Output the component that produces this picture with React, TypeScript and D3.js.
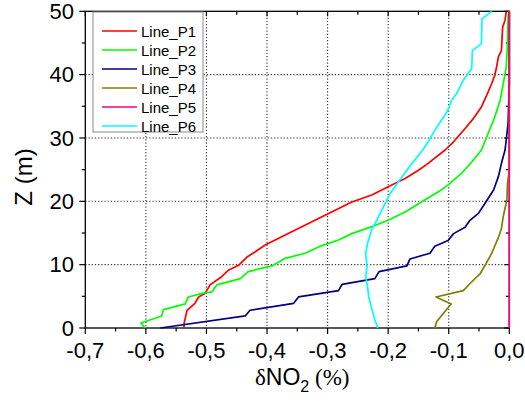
import React from "react";
import * as d3 from "d3";

// ---- Data ----
const seriesNames = ["Line_P1", "Line_P2", "Line_P3", "Line_P4", "Line_P5", "Line_P6"];
const seriesColors = ["#FF0000", "#00FF00", "#000080", "#808000", "#FF0080", "#00FFFF"];

const zP1 = [0, 0.7, 2.8, 3.9, 4.9, 5.5, 6.8, 8.1, 9.1, 9.9, 11.2, 12.0, 13.1, 14.7, 17.3, 19.9, 21.0, 22.3, 23.6, 24.9, 26.0, 28.1, 29.4, 31.5, 33.1, 34.9, 36.8, 38.6, 39.9, 41.2, 42.8, 43.8, 47.5, 48.6, 50];
const dP1 = [-0.537, -0.537, -0.532, -0.519, -0.513, -0.502, -0.494, -0.475, -0.464, -0.447, -0.433, -0.420, -0.403, -0.370, -0.315, -0.260, -0.227, -0.200, -0.172, -0.150, -0.134, -0.106, -0.092, -0.073, -0.059, -0.046, -0.037, -0.029, -0.024, -0.021, -0.018, -0.013, -0.011, -0.007, -0.005];

const zP2 = [0, 0.8, 1.9, 2.9, 3.8, 4.9, 5.5, 5.7, 6.8, 7.8, 8.9, 9.8, 11.0, 11.8, 12.8, 13.9, 14.9, 16.0, 17.0, 18.3, 19.9, 21.5, 22.6, 24.4, 26.2, 28.1, 30.7, 33.3, 36.0, 38.6, 41.2, 44.9, 49.1, 50];
const dP2 = [-0.601, -0.608, -0.574, -0.571, -0.535, -0.530, -0.505, -0.491, -0.483, -0.444, -0.431, -0.392, -0.370, -0.337, -0.315, -0.282, -0.260, -0.227, -0.200, -0.172, -0.145, -0.117, -0.101, -0.079, -0.062, -0.046, -0.035, -0.024, -0.015, -0.010, -0.005, -0.003, -0.002, -0.001];

const zP3 = [0, 1.9, 2.8, 3.9, 4.9, 5.9, 6.9, 7.8, 8.9, 9.8, 10.9, 11.8, 12.9, 13.8, 14.9, 15.9, 17.0, 18.1, 19.7, 21.8, 23.9, 26.0, 28.1, 32.3, 38.6, 50];
const dP3 = [-0.576, -0.436, -0.428, -0.356, -0.348, -0.282, -0.276, -0.222, -0.215, -0.169, -0.164, -0.131, -0.123, -0.101, -0.092, -0.073, -0.065, -0.051, -0.040, -0.026, -0.018, -0.013, -0.007, -0.002, 0, 0];

const zP4 = [0, 1.0, 2.3, 3.8, 4.9, 5.9, 7.3, 8.6, 9.9, 11.8, 14.3, 15.7, 17.6, 20.2, 22.8, 24.9, 50];
const dP4 = [-0.123, -0.120, -0.109, -0.096, -0.121, -0.076, -0.062, -0.048, -0.040, -0.029, -0.018, -0.013, -0.010, -0.004, -0.003, 0, 0];

const zP5 = [0, 50];
const dP5 = [0, 0];

const zP6 = [0, 1.3, 3.4, 4.9, 6.5, 8.1, 9.7, 11.8, 13.4, 15.5, 17.0, 19.1, 21.2, 23.1, 25.2, 28.1, 29.4, 31.2, 32.8, 34.1, 36.0, 37.0, 39.1, 41.0, 43.8, 44.9, 48.8, 50];
const dP6 = [-0.217, -0.222, -0.228, -0.232, -0.234, -0.237, -0.235, -0.237, -0.234, -0.227, -0.219, -0.208, -0.197, -0.183, -0.167, -0.143, -0.134, -0.123, -0.112, -0.103, -0.095, -0.087, -0.076, -0.062, -0.061, -0.046, -0.045, -0.029];

const xMajorTicks = [-0.7, -0.6, -0.5, -0.4, -0.3, -0.2, -0.1, 0.0];
const xTickLabels = ["-0,7", "-0,6", "-0,5", "-0,4", "-0,3", "-0,2", "-0,1", "0,0"];
const xMinorTicks = [-0.65, -0.55, -0.45, -0.35, -0.25, -0.15, -0.05];
const yMajorTicks = [0, 10, 20, 30, 40, 50];
const yTickLabels = ["0", "10", "20", "30", "40", "50"];
const yMinorTicks = [5, 15, 25, 35, 45];

const zSeries = [zP1, zP2, zP3, zP4, zP5, zP6];
const dSeries = [dP1, dP2, dP3, dP4, dP5, dP6];

const SANS = "'Liberation Sans', Arial, sans-serif";
const SERIF = "'Liberation Serif', 'Times New Roman', serif";

export default function App() {
  const left = 85.3, right = 509.3, top = 11.3, bottom = 328;
  const x = d3.scaleLinear().domain([-0.7, 0]).range([left, right]);
  const y = d3.scaleLinear().domain([0, 50]).range([bottom, top]);
  const line = d3
    .line<[number, number]>()
    .x((p) => x(p[0]))
    .y((p) => y(p[1]));

  const gridColor = "#333";
  const legX = 93, legY = 12, legW = 110, legH = 120;
  const rowY0 = 31, rowStep = 19;

  return (
    <svg
      width={525}
      height={410}
      style={{ position: "absolute", left: 0, top: 0, background: "#fff" }}
    >
      <rect x={0} y={0} width={525} height={410} fill="#fff" />
      {/* grid */}
      {xMajorTicks.slice(1, -1).map((t) => (
        <line key={"gx" + t} x1={x(t)} x2={x(t)} y1={top} y2={bottom} stroke={gridColor} strokeWidth={1.1} strokeDasharray="1.2,2" />
      ))}
      {yMajorTicks.slice(1, -1).map((t) => (
        <line key={"gy" + t} x1={left} x2={right} y1={y(t)} y2={y(t)} stroke={gridColor} strokeWidth={1.1} strokeDasharray="1.2,2" />
      ))}

      {/* frame */}
      <rect x={left} y={top} width={right - left} height={bottom - top} fill="none" stroke="#000" strokeWidth={1.3} />

      {/* bottom ticks (outward) + top ticks (inward) */}
      {xMajorTicks.map((t) => (
        <g key={"xt" + t}>
          <line x1={x(t)} x2={x(t)} y1={bottom} y2={bottom + 6} stroke="#000" strokeWidth={1.2} />
          <line x1={x(t)} x2={x(t)} y1={top} y2={top + 5} stroke="#000" strokeWidth={1.2} />
        </g>
      ))}
      {xMinorTicks.map((t) => (
        <g key={"xm" + t}>
          <line x1={x(t)} x2={x(t)} y1={bottom} y2={bottom + 3.5} stroke="#000" strokeWidth={1.2} />
          <line x1={x(t)} x2={x(t)} y1={top} y2={top + 3.5} stroke="#000" strokeWidth={1.2} />
        </g>
      ))}
      {/* left ticks (outward) + right ticks (inward) */}
      {yMajorTicks.map((t) => (
        <g key={"yt" + t}>
          <line x1={left - 6} x2={left} y1={y(t)} y2={y(t)} stroke="#000" strokeWidth={1.2} />
          <line x1={right - 5} x2={right} y1={y(t)} y2={y(t)} stroke="#000" strokeWidth={1.2} />
        </g>
      ))}
      {yMinorTicks.map((t) => (
        <g key={"ym" + t}>
          <line x1={left - 3.5} x2={left} y1={y(t)} y2={y(t)} stroke="#000" strokeWidth={1.2} />
          <line x1={right - 3.5} x2={right} y1={y(t)} y2={y(t)} stroke="#000" strokeWidth={1.2} />
        </g>
      ))}

      {/* tick labels */}
      {xMajorTicks.map((t, i) => (
        <text key={"xl" + t} x={x(t)} y={357.5} textAnchor="middle" fontFamily={SANS} fontSize={22} fill="#000">
          {xTickLabels[i]}
        </text>
      ))}
      {yMajorTicks.map((t, i) => (
        <text key={"yl" + t} x={74} y={y(t) + 7.8} textAnchor="end" fontFamily={SANS} fontSize={22} fill="#000">
          {yTickLabels[i]}
        </text>
      ))}

      {/* series */}
      {seriesNames.map((name, i) => {
        const pts: [number, number][] = dSeries[i].map((d, j) => [d, zSeries[i][j]]);
        return (
          <path key={name} d={line(pts) || ""} fill="none" stroke={seriesColors[i]} strokeWidth={1.7} strokeLinejoin="round" />
        );
      })}

      {/* legend */}
      <rect x={legX} y={legY} width={legW} height={legH} fill="#fff" stroke="#888" strokeWidth={1} />
      {seriesNames.map((name, i) => (
        <g key={"lg" + name}>
          <line x1={102} x2={137} y1={rowY0 + i * rowStep} y2={rowY0 + i * rowStep} stroke={seriesColors[i]} strokeWidth={1.7} />
          <text x={141} y={rowY0 + i * rowStep + 5.5} fontFamily={SANS} fontSize={15} fill="#000">
            {name}
          </text>
        </g>
      ))}

      {/* axis titles */}
      <text x={255} y={385} fontSize={23} fill="#000">
        <tspan fontFamily={SERIF}>δ</tspan>
        <tspan fontFamily={SANS}>NO</tspan>
        <tspan fontFamily={SANS} fontSize={16} dy={7}>2</tspan>
        <tspan fontFamily={SERIF} dy={-7}> (%)</tspan>
      </text>
      <text
        transform={`translate(32, 177) rotate(-90)`}
        textAnchor="middle"
        fontFamily={SANS}
        fontSize={24}
        fill="#000"
      >
        Z (m)
      </text>
    </svg>
  );
}
